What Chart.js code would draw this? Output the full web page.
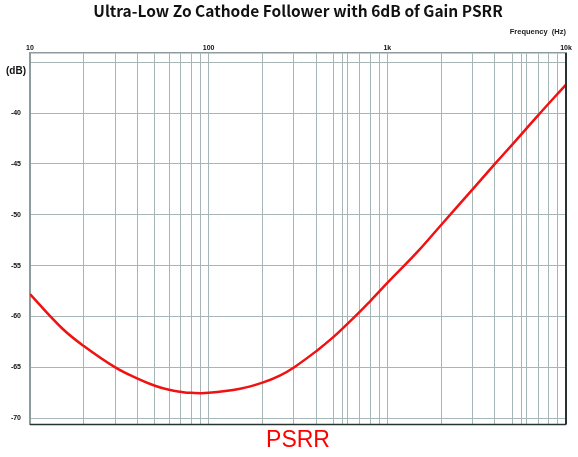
<!doctype html>
<html lang="en">
<head>
<meta charset="utf-8">
<title>Ultra-Low Zo Cathode Follower PSRR</title>
<script src="https://cdn.jsdelivr.net/npm/chart.js@4.4.0/dist/chart.umd.min.js"></script>
<style>
  html, body { margin: 0; padding: 0; background: #fff; }
</style>
</head>
<body>
<canvas id="canvas" width="578" height="457"></canvas>
<script>
  // frequency points (Hz) and PSRR readings (dB)
  var freqs = [10, 15, 20, 30, 40, 50, 60, 70, 80, 100, 150, 200, 250, 300, 400, 500, 600, 700, 800, 900, 1000, 1500, 2000, 3000, 4000, 5000, 7000, 10000];
  var psrr  = [-57.8, -61.1, -62.9, -65.0, -66.1, -66.8, -67.2, -67.4, -67.5, -67.5, -67.1, -66.5, -65.8, -65.0, -63.4, -62.0, -60.7, -59.55, -58.5, -57.55, -56.7, -53.5, -51.0, -47.5, -45.0, -43.1, -40.2, -37.2];

  // grid / tick positions
  var xGrid = [10, 20, 30, 40, 50, 60, 70, 80, 90,
               100, 200, 300, 400, 500, 560, 600, 700, 800, 900,
               1000, 2000, 3000, 4000, 5000, 5600, 6000, 7000, 8000, 9000, 10000];
  var xLabels = { 10: '10', 100: '100', 1000: '1k', 10000: '10k' };
  var yTicks = [-70, -65, -60, -55, -50, -45, -40, -35];

  var gridColor = '#a6b5b5';
  var tickFont = { family: 'Liberation Sans', size: 7, weight: 'bold' };

  var points = [];
  for (var i = 0; i < freqs.length; i++) {
    points.push({ x: freqs[i], y: psrr[i] });
  }

  // right + bottom frame and the (dB) unit label
  var framePlugin = {
    id: 'frame',
    afterDraw: function(chart) {
      var ctx = chart.ctx, a = chart.chartArea;
      ctx.save();
      ctx.strokeStyle = '#263434';
      ctx.lineWidth = 2;
      ctx.beginPath();
      ctx.moveTo(a.right, a.top);
      ctx.lineTo(a.right, a.bottom);
      ctx.stroke();
      ctx.lineWidth = 1.5;
      ctx.beginPath();
      ctx.moveTo(a.left, a.bottom);
      ctx.lineTo(a.right, a.bottom);
      ctx.stroke();
      ctx.fillStyle = '#111';
      ctx.font = 'bold 10px "Liberation Sans"';
      ctx.textAlign = 'right';
      ctx.textBaseline = 'middle';
      ctx.fillText('(dB)', 26, 71);
      ctx.restore();
    }
  };

  var ctx = document.getElementById('canvas').getContext('2d');
  new Chart(ctx, {
    type: 'line',
    data: {
      datasets: [{
        label: 'PSRR',
        data: points,
        borderColor: 'rgb(240,18,18)',
        borderWidth: 2.5,
        pointRadius: 0,
        tension: 0.4,
        fill: false
      }]
    },
    options: {
      responsive: false,
      animation: false,
      layout: { padding: { left: 0, right: 12, top: 0, bottom: 0 } },
      plugins: {
        legend: { display: false },
        tooltip: { enabled: false },
        title: {
          display: true,
          fullSize: false,
          text: 'Ultra-Low Zo Cathode Follower with 6dB of Gain PSRR',
          color: '#111',
          font: { family: 'Noto Sans CJK KR', size: 15.5, weight: 'bold' },
          padding: { top: 2, bottom: 0 }
        },
        subtitle: {
          display: true,
          position: 'bottom',
          fullSize: false,
          text: 'PSRR',
          color: '#ff0000',
          font: { family: 'Liberation Sans', size: 23, weight: 'normal' },
          padding: { top: 2, bottom: 3 }
        }
      },
      scales: {
        x: {
          type: 'logarithmic',
          position: 'top',
          min: 10,
          max: 10000,
          afterBuildTicks: function(s) { s.ticks = xGrid.map(function(v) { return { value: v }; }); },
          afterFit: function(s) { s.height = 32.4; },
          ticks: {
            autoSkip: false,
            maxRotation: 0,
            padding: 1,
            color: '#111',
            font: tickFont,
            callback: function(v) { return xLabels[v] || ''; }
          },
          grid: { color: gridColor, lineWidth: 1, drawTicks: false },
          border: { color: '#8d9c9c', width: 1.5 },
          title: {
            display: true,
            text: 'Frequency  (Hz)',
            align: 'end',
            color: '#222',
            font: { family: 'Liberation Sans', size: 7.5, weight: 'bold' },
            padding: { top: 7, bottom: 0 }
          }
        },
        y: {
          min: -70.6,
          max: -34.1,
          afterBuildTicks: function(s) { s.ticks = yTicks.map(function(v) { return { value: v }; }); },
          afterFit: function(s) { s.width = 30; },
          ticks: {
            padding: 9,
            color: '#111',
            font: tickFont,
            callback: function(v) { return v === -35 ? '' : String(v); }
          },
          grid: { color: gridColor, lineWidth: 1, drawTicks: false },
          border: { color: '#8d9c9c', width: 2 }
        }
      }
    },
    plugins: [framePlugin]
  });
</script>
</body>
</html>
